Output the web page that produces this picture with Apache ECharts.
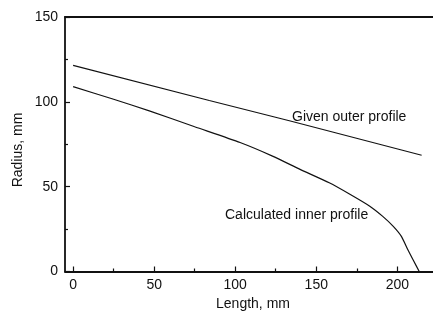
<!DOCTYPE html>
<html>
<head>
<meta charset="utf-8">
<script src="https://cdn.jsdelivr.net/npm/echarts@6/dist/echarts.min.js"></script>
<style>
  html, body { margin: 0; padding: 0; background: #fff; }
  #chart { width: 433px; height: 320px; }
</style>
</head>
<body>
<div id="chart"></div>
<script>
// Profile data: length along the part (mm) vs radius (mm)
const outerLength = [0, 84, 134, 215];
const outerRadius = [121.5, 100.8, 88.7, 68.5];

const innerLength = [0, 25, 47, 75, 103, 123, 140, 158, 171, 183, 191, 197.5, 202.5, 206.5, 209.7, 213.5];
const innerRadius = [109, 101.5, 94.7, 85.3, 76, 68, 60.2, 52.3, 45.4, 38.5, 32.5, 26.6, 20.7, 12.8, 6.9, 0];

const xMajorTicks = [0, 50, 100, 150, 200];
const xMinorTicks = [25, 75, 125, 175];

const xAxisTitle = 'Length, mm';
const yAxisTitle = 'Radius, mm';
const outerLabel = 'Given outer profile';
const innerLabel = 'Calculated inner profile';

const FONT = '"Liberation Sans", Arial, Helvetica, sans-serif';
const FS = 14;
const INK = '#111';

function pairs(xs, ys) { return xs.map((x, i) => [x, ys[i]]); }

const chart = echarts.init(document.getElementById('chart'), null, { renderer: 'canvas' });

chart.setOption({
  animation: false,
  backgroundColor: '#fff',
  grid: { left: 65, right: 0, top: 17, bottom: 48.5, containLabel: false },
  xAxis: [
    {
      type: 'value', position: 'bottom', min: -5, max: 222,
      axisLine: { show: true, onZero: false, lineStyle: { color: INK, width: 1.8 } },
      axisTick: { show: true, inside: true, length: 5, customValues: xMajorTicks, lineStyle: { color: INK, width: 1.2 } },
      axisLabel: { show: true, customValues: xMajorTicks, margin: 7, color: INK, fontSize: FS, fontFamily: FONT },
      splitLine: { show: false },
      name: xAxisTitle, nameLocation: 'middle', nameGap: 23,
      nameTextStyle: { color: INK, fontSize: FS, fontFamily: FONT, padding: [0, 0, 0, 8] }
    },
    {
      // minor ticks along the bottom axis
      type: 'value', position: 'bottom', min: -5, max: 222,
      axisLine: { show: false, onZero: false },
      axisTick: { show: true, inside: true, length: 3, customValues: xMinorTicks, lineStyle: { color: INK, width: 1.2 } },
      axisLabel: { show: false },
      splitLine: { show: false }
    },
    {
      // frame line across the top
      type: 'value', position: 'top', min: -5, max: 222,
      axisLine: { show: true, onZero: false, lineStyle: { color: INK, width: 1.8 } },
      axisTick: { show: false }, axisLabel: { show: false }, splitLine: { show: false }
    }
  ],
  yAxis: {
    type: 'value', min: 0, max: 150, interval: 50,
    axisLine: { show: true, onZero: false, lineStyle: { color: INK, width: 1.8 } },
    axisTick: { show: true, inside: true, length: 5, lineStyle: { color: INK, width: 1.2 } },
    minorTick: { show: true, splitNumber: 2, length: 3, lineStyle: { color: INK, width: 1.2 } },
    axisLabel: { margin: 7, color: INK, fontSize: FS, fontFamily: FONT },
    splitLine: { show: false }, minorSplitLine: { show: false }
  },
  graphic: [
    {
      type: 'text', x: 18, y: 150, rotation: Math.PI / 2,
      style: { text: yAxisTitle, fill: INK, font: FS + 'px ' + FONT, textAlign: 'center', textVerticalAlign: 'middle' }
    },
    {
      type: 'text', x: 292, y: 117,
      style: { text: outerLabel, fill: INK, font: FS + 'px ' + FONT, textAlign: 'left', textVerticalAlign: 'middle' }
    },
    {
      type: 'text', x: 225, y: 215,
      style: { text: innerLabel, fill: INK, font: FS + 'px ' + FONT, textAlign: 'left', textVerticalAlign: 'middle' }
    }
  ],
  series: [
    {
      name: outerLabel, type: 'line', xAxisIndex: 0, data: pairs(outerLength, outerRadius),
      showSymbol: false, smooth: false, lineStyle: { color: INK, width: 1.2 }
    },
    {
      name: innerLabel, type: 'line', xAxisIndex: 0, data: pairs(innerLength, innerRadius),
      showSymbol: false, smooth: 0.2, lineStyle: { color: INK, width: 1.2 }
    }
  ]
});
</script>
</body>
</html>
